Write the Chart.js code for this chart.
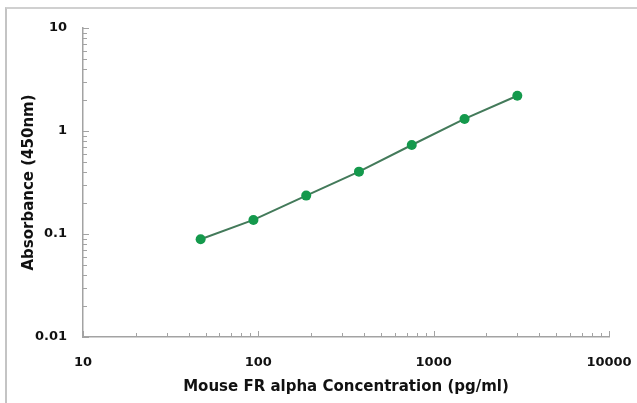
<!DOCTYPE html>
<html>
<head>
<meta charset="utf-8">
<script src="https://cdn.jsdelivr.net/npm/chart.js@4.4.1/dist/chart.umd.min.js"></script>
<style>
  html, body { margin: 0; padding: 0; background: #fff; }
  #wrap { position: relative; width: 637px; height: 403px; overflow: hidden; }
  #frame { position: absolute; left: 5px; top: 7px; right: -4px; bottom: -4px;
           border-left: 2px solid #c4c4c4; border-top: 2px solid #d0d0d0; }
  canvas { position: absolute; left: 0; top: 0; }
</style>
</head>
<body>
<div id="wrap">
  <div id="frame"></div>
  <canvas id="chart" width="637" height="403"></canvas>
</div>
<script>
'use strict';

// standard curve
const concentrations = [46.875, 93.75, 187.5, 375, 750, 1500, 3000];
const absorbance = [0.089, 0.137, 0.236, 0.403, 0.731, 1.31, 2.2];

// axis decades (labelled ticks)
const xDecades = [10, 100, 1000, 10000];
const yDecades = [0.01, 0.1, 1, 10];
const minorSteps = [1, 2, 3, 4, 5, 6, 7, 8, 9];

const AXIS_COLOR = '#a3a3a3';
const LINE_COLOR = '#437a5a';
const POINT_COLOR = '#14994c';
const FONT = { family: '"DejaVu Sans", Verdana, sans-serif', size: 13, weight: 'bold' };
const TITLE_FONT = { family: '"DejaVu Sans", Verdana, sans-serif', size: 15, weight: 'bold' };

function logTicks(decades) {
  const out = [];
  decades.forEach((d, i) => {
    if (i === decades.length - 1) { out.push({ value: d }); return; }
    minorSteps.forEach(m => out.push({ value: +(d * m).toPrecision(6) }));
  });
  return out;
}

function isDecade(v) {
  const l = Math.log10(v);
  return Math.abs(l - Math.round(l)) < 1e-6;
}

// short tick marks pointing into the plot, like the original
const innerTicks = {
  id: 'innerTicks',
  afterDatasetsDraw(chart) {
    const { ctx, chartArea, scales } = chart;
    ctx.save();
    ctx.strokeStyle = AXIS_COLOR;
    ctx.lineWidth = 1;
    scales.x.ticks.forEach(t => {
      const px = Math.round(scales.x.getPixelForValue(t.value)) + 0.5;
      const len = isDecade(t.value) ? 6 : 4;
      ctx.beginPath();
      ctx.moveTo(px, chartArea.bottom);
      ctx.lineTo(px, chartArea.bottom - len);
      ctx.stroke();
    });
    scales.y.ticks.forEach(t => {
      const py = Math.round(scales.y.getPixelForValue(t.value)) + 0.5;
      const len = isDecade(t.value) ? 6 : 4;
      ctx.beginPath();
      ctx.moveTo(chartArea.left, py);
      ctx.lineTo(chartArea.left + len, py);
      ctx.stroke();
    });
    ctx.restore();
  },
};

new Chart(document.getElementById('chart'), {
  type: 'line',
  data: {
    datasets: [{
      data: concentrations.map((c, i) => ({ x: c, y: absorbance[i] })),
      borderColor: LINE_COLOR,
      borderWidth: 2,
      pointRadius: 5,
      pointBackgroundColor: POINT_COLOR,
      pointBorderColor: POINT_COLOR,
      pointBorderWidth: 0,
      tension: 0,
      fill: false,
    }],
  },
  options: {
    responsive: false,
    animation: false,
    layout: { padding: { top: 28, right: 28, left: 0, bottom: 0 } },
    plugins: { legend: { display: false }, tooltip: { enabled: false } },
    scales: {
      x: {
        type: 'logarithmic',
        min: 10,
        max: 10000,
        afterBuildTicks: s => { s.ticks = logTicks(xDecades); },
        afterFit: s => { s.height = 66; s.paddingRight = 0; },
        grid: { display: false },
        border: { display: true, color: AXIS_COLOR, width: 1.5 },
        ticks: {
          autoSkip: false,
          maxRotation: 0,
          padding: 10,
          color: '#111',
          font: FONT,
          callback: v => (isDecade(v) ? String(v) : ''),
        },
        title: {
          display: true,
          text: 'Mouse FR alpha Concentration (pg/ml)',
          color: '#111',
          font: TITLE_FONT,
          padding: { top: 0, bottom: 7 },
        },
      },
      y: {
        type: 'logarithmic',
        min: 0.01,
        max: 10,
        afterBuildTicks: s => { s.ticks = logTicks(yDecades); },
        afterFit: s => { s.width = 83; },
        grid: { display: false },
        border: { display: true, color: AXIS_COLOR, width: 1.5 },
        ticks: {
          autoSkip: false,
          padding: 8,
          color: '#111',
          font: FONT,
          callback: v => (isDecade(v) ? String(+v.toPrecision(3)) : ''),
        },
        title: {
          display: true,
          text: 'Absorbance (450nm)',
          color: '#111',
          font: TITLE_FONT,
          padding: { top: 20, bottom: 0 },
        },
      },
    },
  },
  plugins: [innerTicks],
});
</script>
</body>
</html>
